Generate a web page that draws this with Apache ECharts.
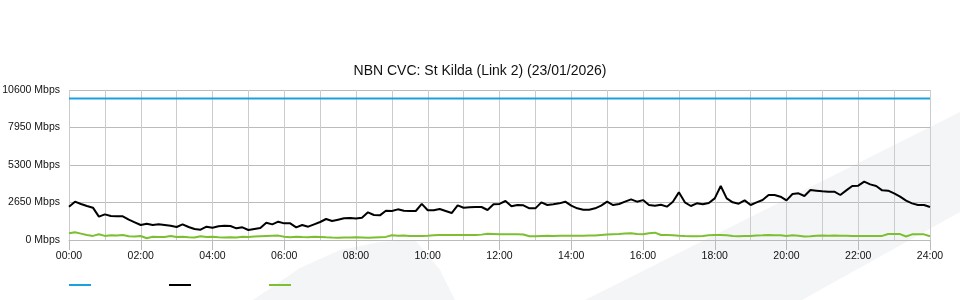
<!DOCTYPE html>
<html>
<head>
<meta charset="utf-8">
<script src="https://cdn.jsdelivr.net/npm/echarts@6/dist/echarts.min.js"></script>
<style>
  html, body { margin: 0; padding: 0; background: #fff; }
  #chart { width: 960px; height: 300px; }
</style>
</head>
<body>
<div id="chart"></div>
<script>
// 10-minute samples, 00:00 .. 24:00
var times = [];
for (var m = 0; m <= 1440; m += 10) {
    var hh = Math.floor(m / 60), mm = m % 60;
    times.push((hh < 10 ? '0' : '') + hh + ':' + (mm < 10 ? '0' : '') + mm);
}

var yTicks = [0, 2650, 5300, 7950, 10600];
var capacityMbps = 10000;

var download = [
    2355, 2708, 2543, 2402, 2284, 1650, 1813, 1695, 1672, 1672, 1436, 1248, 1059, 1153, 1059, 1106, 1059, 1012, 918, 1106, 918, 776, 729, 941, 870,
    965, 1012, 988, 823, 894, 706, 776, 847, 1224, 1106, 1295, 1177, 1177, 894, 1059, 941, 1106, 1271, 1483, 1342, 1436, 1530, 1554, 1520,
    1577, 1954, 1766, 1742, 2072, 2049, 2166, 2072, 2049, 2049, 2550, 2100, 2096, 2190, 2049, 1907, 2450, 2280, 2308, 2331, 2331, 2119, 2520, 2550,
    2755, 2378, 2473, 2449, 2237, 2237, 2661, 2473, 2520, 2590, 2708, 2425, 2237, 2143, 2143, 2237, 2425, 2708, 2473, 2543, 2708, 2873, 2708, 2820,
    2473, 2425, 2496, 2355, 2708, 3368, 2661, 2402, 2590, 2520, 2614, 2944, 3816, 2944, 2661, 2567, 2802, 2473, 2661, 2826, 3180, 3180, 3062, 2800,
    3250, 3297, 3109, 3533, 3486, 3439, 3415, 3415, 3180, 3509, 3816, 3839, 4122, 3933, 3816, 3509, 3486, 3297, 3062, 2779, 2590, 2473, 2473, 2331
];

var upload = [
    470, 541, 450, 350, 290, 400, 290, 330, 310, 350, 260, 240, 280, 120, 230, 210, 210, 280, 210, 230, 190, 170, 260, 210, 230,
    200, 180, 190, 180, 230, 210, 240, 260, 280, 300, 310, 230, 200, 230, 210, 200, 230, 220, 190, 170, 160, 170, 170, 200,
    180, 160, 180, 200, 220, 330, 300, 310, 290, 280, 280, 300, 330, 350, 350, 350, 350, 350, 350, 350, 380, 440, 420, 400,
    400, 400, 400, 390, 270, 270, 290, 300, 290, 300, 300, 300, 300, 300, 310, 320, 360, 380, 400, 420, 460, 470, 420, 400,
    470, 520, 350, 350, 330, 300, 280, 270, 270, 290, 330, 350, 350, 340, 290, 270, 280, 280, 320, 330, 350, 340, 340, 290,
    330, 300, 240, 260, 300, 310, 300, 320, 300, 300, 290, 290, 290, 290, 290, 290, 420, 420, 420, 250, 400, 400, 400, 260
];

var capacity = times.map(function () { return capacityMbps; });

var chart = echarts.init(document.getElementById('chart'), null, { renderer: 'canvas' });
chart.setOption({
    animation: false,
    backgroundColor: '#fff',
    textStyle: { fontFamily: 'Liberation Sans, Arial, sans-serif' },
    title: {
        text: 'NBN CVC: St Kilda (Link 2) (23/01/2026)',
        left: 'center',
        top: 59,
        textStyle: { fontSize: 14, fontWeight: 'normal', color: '#111' }
    },
    // faint background watermark
    graphic: [
        {
            type: 'polygon', z: -10, silent: true,
            shape: { points: [[585, 300], [960, 112], [960, 212], [802, 300]] },
            style: { fill: '#f4f5f7' }
        },
        {
            type: 'polygon', z: -10, silent: true,
            shape: { points: [[253, 300], [300, 268], [340, 250], [380, 242], [415, 240], [440, 270], [455, 300]] },
            style: { fill: '#f4f5f7' }
        }
    ],
    legend: {
        left: 69,
        top: 284,
        padding: 0,
        icon: 'rect',
        itemWidth: 22,
        itemHeight: 2,
        itemGap: 78,
        formatter: function () { return ''; },
        data: ['Capacity', 'Download', 'Upload']
    },
    grid: { left: 69, right: 30, top: 90, bottom: 60, outerBoundsMode: 'none' },
    xAxis: {
        type: 'category',
        boundaryGap: false,
        data: times,
        axisLine: { lineStyle: { color: '#bbb' } },
        axisTick: { interval: 11, length: 10, lineStyle: { color: '#bbb' } },
        axisLabel: { interval: 11, margin: 11, fontSize: 10.5, color: '#111' },
        splitLine: { show: true, interval: 5, lineStyle: { color: '#ccc' } }
    },
    yAxis: {
        type: 'value',
        min: yTicks[0],
        max: yTicks[yTicks.length - 1],
        interval: yTicks[1] - yTicks[0],
        axisLine: { show: false },
        axisTick: { show: false },
        axisLabel: {
            formatter: function (v) { return v + ' Mbps'; },
            margin: 9, fontSize: 10.5, color: '#111'
        },
        splitLine: { lineStyle: { color: '#bbb' } }
    },
    series: [
        {
            name: 'Capacity', type: 'line', data: capacity, showSymbol: false,
            lineStyle: { width: 2, color: '#1ba1e2' }, itemStyle: { color: '#1ba1e2' }
        },
        {
            name: 'Download', type: 'line', data: download, showSymbol: false,
            lineStyle: { width: 2, color: '#000' }, itemStyle: { color: '#000' }
        },
        {
            name: 'Upload', type: 'line', data: upload, showSymbol: false,
            lineStyle: { width: 2, color: '#7cbf31' }, itemStyle: { color: '#7cbf31' }
        }
    ]
});
</script>
</body>
</html>
